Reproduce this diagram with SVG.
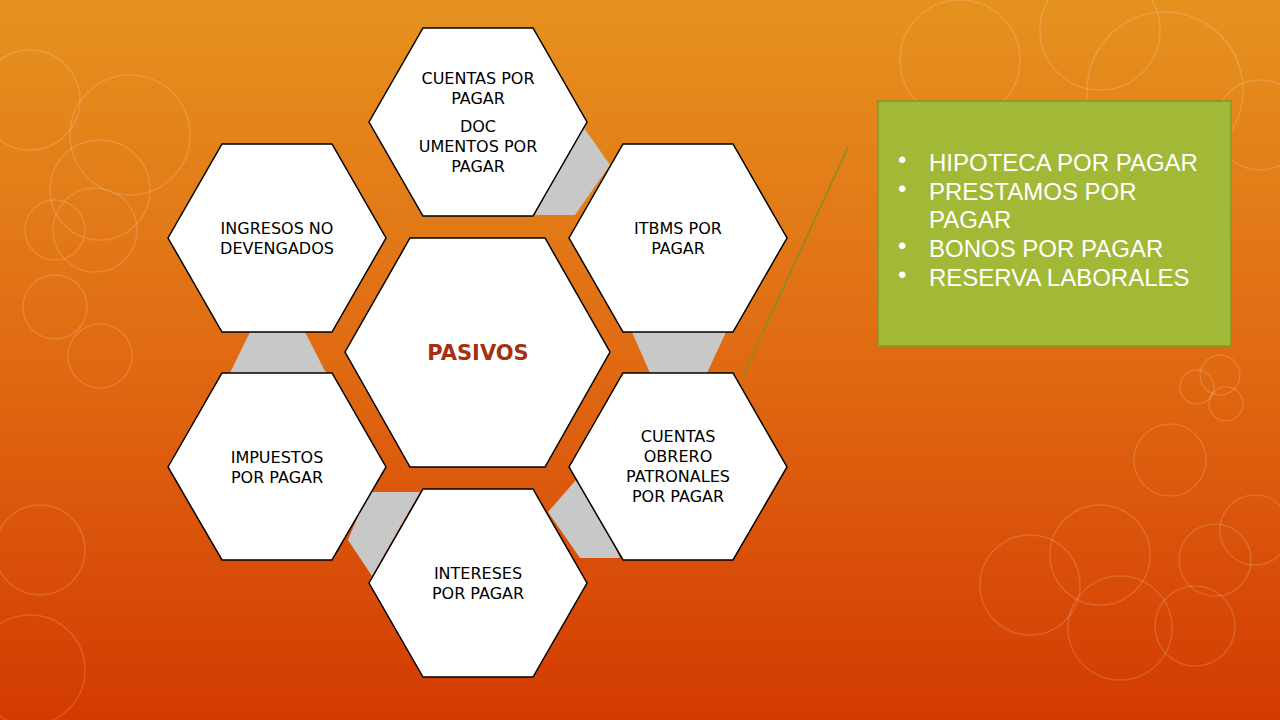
<svg xmlns="http://www.w3.org/2000/svg" width="1280" height="720" viewBox="0 0 1280 720">
<defs>
<linearGradient id="bg" x1="0" y1="0" x2="0" y2="1">
<stop offset="0" stop-color="#e6921f"/><stop offset="0.5" stop-color="#e06a12"/><stop offset="1" stop-color="#d33a02"/>
</linearGradient>
<style>
.hex{fill:#fff;stroke:#000;stroke-width:1.5}
.gap{fill:#c8c8c8}
.t{font-family:"DejaVu Sans","Liberation Sans",sans-serif;font-size:16px;fill:#000;text-anchor:middle}
.c{fill:none;stroke:#fff;stroke-opacity:0.15;stroke-width:1.5}
.b{font-family:"Liberation Sans",sans-serif;font-size:24px;fill:#fff}
</style>
</defs>
<rect width="1280" height="720" fill="url(#bg)"/>
<g>
<circle class="c" cx="30" cy="100" r="50"/><circle class="c" cx="130" cy="135" r="60"/><circle class="c" cx="100" cy="190" r="50"/><circle class="c" cx="95" cy="230" r="42"/><circle class="c" cx="55" cy="230" r="30"/><circle class="c" cx="55" cy="307" r="32"/><circle class="c" cx="100" cy="356" r="32"/><circle class="c" cx="1100" cy="30" r="60"/><circle class="c" cx="1165" cy="90" r="78"/><circle class="c" cx="1260" cy="125" r="45"/><circle class="c" cx="960" cy="60" r="60"/><circle class="c" cx="1170" cy="460" r="36"/><circle class="c" cx="1100" cy="555" r="50"/><circle class="c" cx="1030" cy="585" r="50"/><circle class="c" cx="1120" cy="628" r="52"/><circle class="c" cx="1195" cy="626" r="40"/><circle class="c" cx="1215" cy="560" r="36"/><circle class="c" cx="1255" cy="530" r="35"/><circle class="c" cx="1220" cy="375" r="20"/><circle class="c" cx="1197" cy="387" r="17"/><circle class="c" cx="1226" cy="404" r="17"/><circle class="c" cx="40" cy="550" r="45"/><circle class="c" cx="30" cy="670" r="55"/>
</g>
<g id="connectors">
<polygon class="gap" points="582,125 610,165 575,215 535,215"/>
<polygon class="gap" points="632,332 726,332 707,373 650,373"/>
<polygon class="gap" points="583,472 620,558 580,558 548,512"/>
<polygon class="gap" points="368,492 420,492 372,576 348,540"/>
<polygon class="gap" points="230,373 326,373 305,332 250,332"/>
<line x1="848" y1="147" x2="742" y2="378" stroke="#7f8f22" stroke-width="1.5"/>
</g>
<g id="n-top"><polygon class="hex" points="369,122 423,28 533,28 587,122 533,216 423,216"/>
<text class="t" x="478" y="84">CUENTAS POR</text><text class="t" x="478" y="104">PAGAR</text><text class="t" x="478" y="132">DOC</text><text class="t" x="478" y="152">UMENTOS POR</text><text class="t" x="478" y="172">PAGAR</text></g>
<g id="n-rt"><polygon class="hex" points="569,238 623,144 733,144 787,238 733,332 623,332"/>
<text class="t" x="678" y="234">ITBMS POR</text><text class="t" x="678" y="254">PAGAR</text></g>
<g id="n-rb"><polygon class="hex" points="569,467 623,373 733,373 787,467 733,560 623,560"/>
<text class="t" x="678" y="442">CUENTAS</text><text class="t" x="678" y="462">OBRERO</text><text class="t" x="678" y="482">PATRONALES</text><text class="t" x="678" y="502">POR PAGAR</text></g>
<g id="n-bot"><polygon class="hex" points="369,583 423,489 533,489 587,583 533,677 423,677"/>
<text class="t" x="478" y="579">INTERESES</text><text class="t" x="478" y="599">POR PAGAR</text></g>
<g id="n-lb"><polygon class="hex" points="168,467 222,373 332,373 386,467 332,560 222,560"/>
<text class="t" x="277" y="463">IMPUESTOS</text><text class="t" x="277" y="483">POR PAGAR</text></g>
<g id="n-lt"><polygon class="hex" points="168,238 222,144 332,144 386,238 332,332 222,332"/>
<text class="t" x="277" y="234">INGRESOS NO</text><text class="t" x="277" y="254">DEVENGADOS</text></g>
<g id="n-center"><polygon class="hex" points="345,352 410,238 545,238 610,352 545,467 410,467"/>
<text x="478" y="360" text-anchor="middle" font-family="DejaVu Sans, Liberation Sans, sans-serif" font-size="21" font-weight="bold" fill="#a5300f">PASIVOS</text></g>
<g id="n-box"><rect x="878" y="101" width="353" height="245" fill="#a2b837" stroke="#7f9a2a" stroke-width="1.5"/>
<text class="b" font-size="13" x="898" y="168">•</text><text class="b" x="929" y="171">HIPOTECA POR PAGAR</text>
<text class="b" font-size="13" x="898" y="197">•</text><text class="b" x="929" y="200">PRESTAMOS POR</text><text class="b" x="929" y="228">PAGAR</text>
<text class="b" font-size="13" x="898" y="254">•</text><text class="b" x="929" y="257">BONOS POR PAGAR</text>
<text class="b" font-size="13" x="898" y="283">•</text><text class="b" x="929" y="286">RESERVA LABORALES</text></g>
</svg>
